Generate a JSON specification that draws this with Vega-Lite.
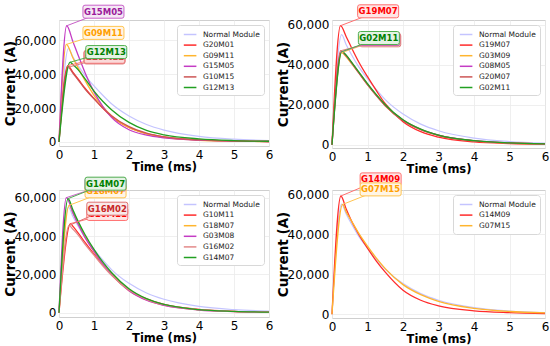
{
"$schema": "https://vega.github.io/schema/vega-lite/v6.json",
"background": "white",
"padding": {"left": 2, "top": 2, "right": 2, "bottom": 2},
"config": {
  "font": "DejaVu Sans",
  "view": {"stroke": "#cfcfcf", "strokeWidth": 1},
  "axis": {"labelFont": "DejaVu Sans", "labelFontSize": 12, "labelColor": "#000", "titleFont": "DejaVu Sans", "titleFontWeight": "bold", "titleColor": "#000", "domain": false, "ticks": false, "gridColor": "#ebebeb", "gridWidth": 0.8, "labelPadding": 3, "labelFlush": false, "labelOverlap": false},
  "axisY": {"titleFontSize": 13.5, "titlePadding": -3},
  "axisX": {"titleFontSize": 11.5, "titlePadding": 1, "tickCount": 7},
  "line": {"interpolate": "monotone"},
  "legend": {"orient": "top-right", "offset": 5, "fillColor": "white", "strokeColor": "#d8d8d8", "padding": 4, "cornerRadius": 3, "labelFont": "DejaVu Sans", "labelFontSize": 7.5, "labelColor": "#222", "symbolType": "M-0.6,0L2.2,0", "symbolSize": 81, "symbolStrokeWidth": 1.5, "rowPadding": 1.6, "labelOffset": 11}
},
"datasets": {
  "normal": [
    {"series":"Normal Module","time":0,"current":0},{"series":"Normal Module","time":0.27,"current":55000},{"series":"Normal Module","time":0.4,"current":50000},{"series":"Normal Module","time":0.55,"current":45000},{"series":"Normal Module","time":0.75,"current":39000},{"series":"Normal Module","time":1,"current":33000},{"series":"Normal Module","time":1.25,"current":27500},{"series":"Normal Module","time":1.5,"current":22500},{"series":"Normal Module","time":2,"current":15300},{"series":"Normal Module","time":2.5,"current":10300},{"series":"Normal Module","time":3,"current":7000},{"series":"Normal Module","time":4,"current":3300},{"series":"Normal Module","time":5,"current":1600},{"series":"Normal Module","time":6,"current":800}
  ],
  "l1": [
    {"series":"G20M01","time":0,"current":0},{"series":"G20M01","time":0.25,"current":45000},{"series":"G20M01","time":0.4,"current":41000},{"series":"G20M01","time":0.55,"current":37000},{"series":"G20M01","time":0.75,"current":31500},{"series":"G20M01","time":1,"current":25500},{"series":"G20M01","time":1.25,"current":20000},{"series":"G20M01","time":1.5,"current":15000},{"series":"G20M01","time":2,"current":8500},{"series":"G20M01","time":2.5,"current":4900},{"series":"G20M01","time":3,"current":2900},{"series":"G20M01","time":4,"current":1200},{"series":"G20M01","time":5,"current":550},{"series":"G20M01","time":6,"current":250},
    {"series":"G09M11","time":0,"current":0},{"series":"G09M11","time":0.21,"current":57500},{"series":"G09M11","time":0.4,"current":49500},{"series":"G09M11","time":0.55,"current":43500},{"series":"G09M11","time":0.75,"current":36000},{"series":"G09M11","time":1,"current":27500},{"series":"G09M11","time":1.25,"current":20800},{"series":"G09M11","time":1.5,"current":15500},{"series":"G09M11","time":2,"current":8500},{"series":"G09M11","time":2.5,"current":4800},{"series":"G09M11","time":3,"current":2700},{"series":"G09M11","time":4,"current":1000},{"series":"G09M11","time":5,"current":450},{"series":"G09M11","time":6,"current":200},
    {"series":"G15M05","time":0,"current":0},{"series":"G15M05","time":0.22,"current":68500},{"series":"G15M05","time":0.4,"current":59000},{"series":"G15M05","time":0.55,"current":51000},{"series":"G15M05","time":0.75,"current":40500},{"series":"G15M05","time":1,"current":29500},{"series":"G15M05","time":1.25,"current":21000},{"series":"G15M05","time":1.5,"current":14500},{"series":"G15M05","time":2,"current":7200},{"series":"G15M05","time":2.5,"current":4000},{"series":"G15M05","time":3,"current":2400},{"series":"G15M05","time":4,"current":1100},{"series":"G15M05","time":5,"current":500},{"series":"G15M05","time":6,"current":250},
    {"series":"G10M15","time":0,"current":0},{"series":"G10M15","time":0.26,"current":44000},{"series":"G10M15","time":0.4,"current":40500},{"series":"G10M15","time":0.55,"current":36500},{"series":"G10M15","time":0.75,"current":31000},{"series":"G10M15","time":1,"current":25500},{"series":"G10M15","time":1.25,"current":20000},{"series":"G10M15","time":1.5,"current":15500},{"series":"G10M15","time":2,"current":9000},{"series":"G10M15","time":2.5,"current":5200},{"series":"G10M15","time":3,"current":3000},{"series":"G10M15","time":4,"current":1200},{"series":"G10M15","time":5,"current":550},{"series":"G10M15","time":6,"current":250},
    {"series":"G12M13","time":0,"current":0},{"series":"G12M13","time":0.32,"current":47000},{"series":"G12M13","time":0.4,"current":45500},{"series":"G12M13","time":0.55,"current":42500},{"series":"G12M13","time":0.75,"current":37000},{"series":"G12M13","time":1,"current":30000},{"series":"G12M13","time":1.25,"current":24000},{"series":"G12M13","time":1.5,"current":19000},{"series":"G12M13","time":2,"current":11500},{"series":"G12M13","time":2.5,"current":6800},{"series":"G12M13","time":3,"current":4200},{"series":"G12M13","time":4,"current":1800},{"series":"G12M13","time":5,"current":800},{"series":"G12M13","time":6,"current":400}
  ],
  "l2": [
    {"series":"G19M07","time":0,"current":0},{"series":"G19M07","time":0.24,"current":59500},{"series":"G19M07","time":0.4,"current":54000},{"series":"G19M07","time":0.55,"current":48500},{"series":"G19M07","time":0.75,"current":41500},{"series":"G19M07","time":1,"current":34000},{"series":"G19M07","time":1.25,"current":27000},{"series":"G19M07","time":1.5,"current":20500},{"series":"G19M07","time":2,"current":11500},{"series":"G19M07","time":2.5,"current":6500},{"series":"G19M07","time":3,"current":3800},{"series":"G19M07","time":4,"current":1400},{"series":"G19M07","time":5,"current":600},{"series":"G19M07","time":6,"current":300},
    {"series":"G03M09","time":0,"current":0},{"series":"G03M09","time":0.27,"current":46000},{"series":"G03M09","time":0.4,"current":44000},{"series":"G03M09","time":0.55,"current":40500},{"series":"G03M09","time":0.75,"current":36000},{"series":"G03M09","time":1,"current":30000},{"series":"G03M09","time":1.25,"current":24500},{"series":"G03M09","time":1.5,"current":19500},{"series":"G03M09","time":2,"current":12200},{"series":"G03M09","time":2.5,"current":7600},{"series":"G03M09","time":3,"current":4700},{"series":"G03M09","time":4,"current":1900},{"series":"G03M09","time":5,"current":850},{"series":"G03M09","time":6,"current":400},
    {"series":"G08M05","time":0,"current":0},{"series":"G08M05","time":0.27,"current":46500},{"series":"G08M05","time":0.4,"current":44500},{"series":"G08M05","time":0.55,"current":41000},{"series":"G08M05","time":0.75,"current":36200},{"series":"G08M05","time":1,"current":30200},{"series":"G08M05","time":1.25,"current":24700},{"series":"G08M05","time":1.5,"current":19700},{"series":"G08M05","time":2,"current":12300},{"series":"G08M05","time":2.5,"current":7700},{"series":"G08M05","time":3,"current":4800},{"series":"G08M05","time":4,"current":2000},{"series":"G08M05","time":5,"current":900},{"series":"G08M05","time":6,"current":400},
    {"series":"G20M07","time":0,"current":0},{"series":"G20M07","time":0.25,"current":47000},{"series":"G20M07","time":0.4,"current":44500},{"series":"G20M07","time":0.55,"current":41000},{"series":"G20M07","time":0.75,"current":36000},{"series":"G20M07","time":1,"current":30000},{"series":"G20M07","time":1.25,"current":24500},{"series":"G20M07","time":1.5,"current":19500},{"series":"G20M07","time":2,"current":12000},{"series":"G20M07","time":2.5,"current":7500},{"series":"G20M07","time":3,"current":4600},{"series":"G20M07","time":4,"current":1900},{"series":"G20M07","time":5,"current":850},{"series":"G20M07","time":6,"current":400},
    {"series":"G02M11","time":0,"current":0},{"series":"G02M11","time":0.28,"current":46500},{"series":"G02M11","time":0.4,"current":44800},{"series":"G02M11","time":0.55,"current":41300},{"series":"G02M11","time":0.75,"current":36500},{"series":"G02M11","time":1,"current":30500},{"series":"G02M11","time":1.25,"current":25000},{"series":"G02M11","time":1.5,"current":20000},{"series":"G02M11","time":2,"current":12500},{"series":"G02M11","time":2.5,"current":7800},{"series":"G02M11","time":3,"current":4800},{"series":"G02M11","time":4,"current":2000},{"series":"G02M11","time":5,"current":900},{"series":"G02M11","time":6,"current":400}
  ],
  "l3": [
    {"series":"G10M11","time":0,"current":0},{"series":"G10M11","time":0.33,"current":46500},{"series":"G10M11","time":0.4,"current":45000},{"series":"G10M11","time":0.55,"current":41500},{"series":"G10M11","time":0.75,"current":36500},{"series":"G10M11","time":1,"current":30500},{"series":"G10M11","time":1.25,"current":25000},{"series":"G10M11","time":1.5,"current":20000},{"series":"G10M11","time":2,"current":12000},{"series":"G10M11","time":2.5,"current":7200},{"series":"G10M11","time":3,"current":4300},{"series":"G10M11","time":4,"current":1700},{"series":"G10M11","time":5,"current":700},{"series":"G10M11","time":6,"current":300},
    {"series":"G18M07","time":0,"current":0},{"series":"G18M07","time":0.29,"current":56000},{"series":"G18M07","time":0.4,"current":52000},{"series":"G18M07","time":0.55,"current":46500},{"series":"G18M07","time":0.75,"current":39500},{"series":"G18M07","time":1,"current":32000},{"series":"G18M07","time":1.25,"current":25500},{"series":"G18M07","time":1.5,"current":20000},{"series":"G18M07","time":2,"current":11500},{"series":"G18M07","time":2.5,"current":6700},{"series":"G18M07","time":3,"current":3900},{"series":"G18M07","time":4,"current":1500},{"series":"G18M07","time":5,"current":600},{"series":"G18M07","time":6,"current":300},
    {"series":"G03M08","time":0,"current":0},{"series":"G03M08","time":0.21,"current":60000},{"series":"G03M08","time":0.4,"current":52000},{"series":"G03M08","time":0.55,"current":46000},{"series":"G03M08","time":0.75,"current":39000},{"series":"G03M08","time":1,"current":32000},{"series":"G03M08","time":1.25,"current":25500},{"series":"G03M08","time":1.5,"current":20000},{"series":"G03M08","time":2,"current":11500},{"series":"G03M08","time":2.5,"current":6500},{"series":"G03M08","time":3,"current":3800},{"series":"G03M08","time":4,"current":1400},{"series":"G03M08","time":5,"current":600},{"series":"G03M08","time":6,"current":300},
    {"series":"G16M02","time":0,"current":0},{"series":"G16M02","time":0.29,"current":45500},{"series":"G16M02","time":0.4,"current":43500},{"series":"G16M02","time":0.55,"current":40500},{"series":"G16M02","time":0.75,"current":35500},{"series":"G16M02","time":1,"current":30000},{"series":"G16M02","time":1.25,"current":24500},{"series":"G16M02","time":1.5,"current":19500},{"series":"G16M02","time":2,"current":11800},{"series":"G16M02","time":2.5,"current":7000},{"series":"G16M02","time":3,"current":4200},{"series":"G16M02","time":4,"current":1600},{"series":"G16M02","time":5,"current":700},{"series":"G16M02","time":6,"current":300},
    {"series":"G14M07","time":0,"current":0},{"series":"G14M07","time":0.26,"current":59500},{"series":"G14M07","time":0.4,"current":53500},{"series":"G14M07","time":0.55,"current":47500},{"series":"G14M07","time":0.75,"current":40500},{"series":"G14M07","time":1,"current":33000},{"series":"G14M07","time":1.25,"current":26500},{"series":"G14M07","time":1.5,"current":21000},{"series":"G14M07","time":2,"current":12500},{"series":"G14M07","time":2.5,"current":7300},{"series":"G14M07","time":3,"current":4300},{"series":"G14M07","time":4,"current":1600},{"series":"G14M07","time":5,"current":700},{"series":"G14M07","time":6,"current":300}
  ],
  "l4": [
    {"series":"G14M09","time":0,"current":0},{"series":"G14M09","time":0.25,"current":59000},{"series":"G14M09","time":0.4,"current":52500},{"series":"G14M09","time":0.55,"current":46500},{"series":"G14M09","time":0.75,"current":40000},{"series":"G14M09","time":1,"current":33000},{"series":"G14M09","time":1.25,"current":26500},{"series":"G14M09","time":1.5,"current":21000},{"series":"G14M09","time":2,"current":12000},{"series":"G14M09","time":2.5,"current":7000},{"series":"G14M09","time":3,"current":4200},{"series":"G14M09","time":4,"current":1700},{"series":"G14M09","time":5,"current":800},{"series":"G14M09","time":6,"current":400},
    {"series":"G07M15","time":0,"current":0},{"series":"G07M15","time":0.3,"current":54800},{"series":"G07M15","time":0.4,"current":51000},{"series":"G07M15","time":0.55,"current":46500},{"series":"G07M15","time":0.75,"current":40500},{"series":"G07M15","time":1,"current":34000},{"series":"G07M15","time":1.25,"current":28000},{"series":"G07M15","time":1.5,"current":22800},{"series":"G07M15","time":2,"current":14800},{"series":"G07M15","time":2.5,"current":9800},{"series":"G07M15","time":3,"current":6500},{"series":"G07M15","time":4,"current":3000},{"series":"G07M15","time":5,"current":1400},{"series":"G07M15","time":6,"current":700}
  ],
  "a1": [
    {"series":"G20M01","time":1.3,"current":50200,"peakTime":0.25,"peakCurrent":45000},
    {"series":"G10M15","time":1.3,"current":49800,"peakTime":0.26,"peakCurrent":44000},
    {"series":"G15M05","time":1.27,"current":76800,"peakTime":0.22,"peakCurrent":68500},
    {"series":"G09M11","time":1.27,"current":64300,"peakTime":0.21,"peakCurrent":57500},
    {"series":"G12M13","time":1.35,"current":53000,"peakTime":0.32,"peakCurrent":47000}
  ],
  "a2": [
    {"series":"G03M09","time":1.34,"current":52800,"peakTime":0.27,"peakCurrent":46000},
    {"series":"G08M05","time":1.34,"current":52800,"peakTime":0.27,"peakCurrent":46500},
    {"series":"G20M07","time":1.36,"current":52200,"peakTime":0.25,"peakCurrent":47000},
    {"series":"G19M07","time":1.3,"current":66700,"peakTime":0.24,"peakCurrent":59500},
    {"series":"G02M11","time":1.32,"current":53350,"peakTime":0.28,"peakCurrent":46500}
  ],
  "a3": [
    {"series":"G03M08","time":1.33,"current":66800,"peakTime":0.21,"peakCurrent":60000},
    {"series":"G18M07","time":1.33,"current":63300,"peakTime":0.29,"peakCurrent":56000},
    {"series":"G10M11","time":1.38,"current":51500,"peakTime":0.33,"peakCurrent":46500},
    {"series":"G14M07","time":1.33,"current":67300,"peakTime":0.26,"peakCurrent":59500},
    {"series":"G16M02","time":1.38,"current":54250,"peakTime":0.29,"peakCurrent":45500}
  ],
  "a4": [
    {"series":"G14M09","time":1.37,"current":67300,"peakTime":0.25,"peakCurrent":59000},
    {"series":"G07M15","time":1.37,"current":62300,"peakTime":0.3,"peakCurrent":54800}
  ]
},
"columns": 2,
"spacing": {"row": 42, "column": 63},
"bounds": "flush",
"resolve": {"scale": {"color": "independent", "fill": "independent", "stroke": "independent", "strokeWidth": "independent"}, "legend": {"color": "independent"}},
"concat": [
{
 "width": 210, "height": 126,
 "encoding": {
  "x": {"field": "time", "type": "quantitative", "scale": {"domain": [0, 6], "nice": false}, "axis": {"values": [0,1,2,3,4,5,6], "format": "d", "title": "Time (ms)"}},
  "y": {"field": "current", "type": "quantitative", "scale": {"domain": [-2400, 71900], "nice": false, "zero": false}, "axis": {"values": [0,20000,40000,60000], "format": ",d", "title": "Current (A)"}}
 },
 "layer": [
  {"data": {"name": "normal"}, "mark": {"type": "line", "strokeWidth": 1.2},
   "encoding": {"color": {"field": "series", "type": "nominal", "scale": {"domain": ["Normal Module","G20M01","G09M11","G15M05","G10M15","G12M13"], "range": ["#c4c4ff","#ff2b2b","#ffb52e","#c43cc4","#cd5555","#22a022"]}, "legend": {"title": null}}}},
  {"data": {"name": "l1"}, "mark": {"type": "line", "strokeWidth": 1.3},
   "encoding": {"color": {"field": "series", "type": "nominal", "legend": {"title": null}}}},
  {"data": {"name": "a1"}, "transform": [{"filter": {"field": "series", "oneOf": ["G20M01","G10M15"]}}],
   "layer": [
    {"mark": {"type": "rule", "strokeWidth": 1}, "encoding": {"x": {"field": "peakTime", "type": "quantitative", "axis": {"values": [0,1,2,3,4,5,6], "format": "d", "title": "Time (ms)"}}, "y": {"field": "peakCurrent", "type": "quantitative", "axis": {"values": [0,20000,40000,60000], "format": ",d", "title": "Current (A)"}}, "x2": {"field": "time"}, "y2": {"field": "current"}, "stroke": {"field": "series", "type": "nominal", "scale": {"domain": ["G15M05","G09M11","G12M13","G20M01","G10M15"], "range": ["#c860c8","#ffc450","#50b050","#ff7070","#e08080"]}, "legend": null}}},
    {"mark": {"type": "point", "shape": "M-0.9,-0.317L0.9,-0.317Q1,-0.317 1,-0.217L1,0.217Q1,0.317 0.9,0.317L-0.9,0.317Q-1,0.317 -1,0.217L-1,-0.217Q-1,-0.317 -0.9,-0.317Z", "size": 1681, "filled": true, "fill": "white", "opacity": 1, "strokeWidth": 0}},
    {"mark": {"type": "point", "shape": "M-0.9,-0.317L0.9,-0.317Q1,-0.317 1,-0.217L1,0.217Q1,0.317 0.9,0.317L-0.9,0.317Q-1,0.317 -1,0.217L-1,-0.217Q-1,-0.317 -0.9,-0.317Z", "size": 1681, "filled": true, "opacity": 1, "fillOpacity": 0.1, "strokeWidth": 1}, "encoding": {"fill": {"field": "series", "type": "nominal", "scale": {"domain": ["G15M05","G09M11","G12M13","G20M01","G10M15"], "range": ["#9b1b9b","#ffa000","#008000","#ff3030","#cd4040"]}, "legend": null}, "stroke": {"field": "series", "type": "nominal", "legend": null}}},
    {"mark": {"type": "text", "fontWeight": "bold", "fontSize": 8.5, "baseline": "middle"}, "encoding": {"text": {"field": "series"}, "fill": {"field": "series", "type": "nominal", "legend": null}}}
   ]},
  {"data": {"name": "a1"}, "transform": [{"filter": {"field": "series", "oneOf": ["G15M05","G09M11","G12M13"]}}],
   "layer": [
    {"mark": {"type": "rule", "strokeWidth": 1}, "encoding": {"x": {"field": "peakTime", "type": "quantitative", "axis": {"values": [0,1,2,3,4,5,6], "format": "d", "title": "Time (ms)"}}, "y": {"field": "peakCurrent", "type": "quantitative", "axis": {"values": [0,20000,40000,60000], "format": ",d", "title": "Current (A)"}}, "x2": {"field": "time"}, "y2": {"field": "current"}, "stroke": {"field": "series", "type": "nominal", "legend": null}}},
    {"mark": {"type": "point", "shape": "M-0.9,-0.317L0.9,-0.317Q1,-0.317 1,-0.217L1,0.217Q1,0.317 0.9,0.317L-0.9,0.317Q-1,0.317 -1,0.217L-1,-0.217Q-1,-0.317 -0.9,-0.317Z", "size": 1681, "filled": true, "fill": "white", "opacity": 1, "strokeWidth": 0}},
    {"mark": {"type": "point", "shape": "M-0.9,-0.317L0.9,-0.317Q1,-0.317 1,-0.217L1,0.217Q1,0.317 0.9,0.317L-0.9,0.317Q-1,0.317 -1,0.217L-1,-0.217Q-1,-0.317 -0.9,-0.317Z", "size": 1681, "filled": true, "opacity": 1, "fillOpacity": 0.1, "strokeWidth": 1}, "encoding": {"fill": {"field": "series", "type": "nominal", "legend": null}, "stroke": {"field": "series", "type": "nominal", "legend": null}}},
    {"mark": {"type": "text", "fontWeight": "bold", "fontSize": 8.5, "baseline": "middle"}, "encoding": {"text": {"field": "series"}, "fill": {"field": "series", "type": "nominal", "legend": null}}}
   ]}
 ]
},
{
 "width": 213, "height": 128,
 "encoding": {
  "x": {"field": "time", "type": "quantitative", "scale": {"domain": [0, 6], "nice": false}, "axis": {"values": [0,1,2,3,4,5,6], "format": "d", "title": "Time (ms)"}},
  "y": {"field": "current", "type": "quantitative", "scale": {"domain": [-1650, 62350], "nice": false, "zero": false}, "axis": {"values": [0,20000,40000,60000], "format": ",d", "title": "Current (A)"}}
 },
 "layer": [
  {"data": {"name": "normal"}, "mark": {"type": "line", "strokeWidth": 1.2},
   "encoding": {"color": {"field": "series", "type": "nominal", "scale": {"domain": ["Normal Module","G19M07","G03M09","G08M05","G20M07","G02M11"], "range": ["#c4c4ff","#ff2b2b","#ffb52e","#c43cc4","#cd5555","#22a022"]}, "legend": {"title": null}}}},
  {"data": {"name": "l2"}, "mark": {"type": "line", "strokeWidth": 1.3},
   "encoding": {"color": {"field": "series", "type": "nominal", "legend": {"title": null}}}},
  {"data": {"name": "a2"}, "transform": [{"filter": {"field": "series", "oneOf": ["G03M09","G08M05","G20M07"]}}],
   "layer": [
    {"mark": {"type": "rule", "strokeWidth": 1}, "encoding": {"x": {"field": "peakTime", "type": "quantitative", "axis": {"values": [0,1,2,3,4,5,6], "format": "d", "title": "Time (ms)"}}, "y": {"field": "peakCurrent", "type": "quantitative", "axis": {"values": [0,20000,40000,60000], "format": ",d", "title": "Current (A)"}}, "x2": {"field": "time"}, "y2": {"field": "current"}, "stroke": {"field": "series", "type": "nominal", "scale": {"domain": ["G19M07","G02M11","G03M09","G08M05","G20M07"], "range": ["#ff7070","#50b050","#ffc450","#c860c8","#e08080"]}, "legend": null}}},
    {"mark": {"type": "point", "shape": "M-0.9,-0.317L0.9,-0.317Q1,-0.317 1,-0.217L1,0.217Q1,0.317 0.9,0.317L-0.9,0.317Q-1,0.317 -1,0.217L-1,-0.217Q-1,-0.317 -0.9,-0.317Z", "size": 1681, "filled": true, "fill": "white", "opacity": 1, "strokeWidth": 0}},
    {"mark": {"type": "point", "shape": "M-0.9,-0.317L0.9,-0.317Q1,-0.317 1,-0.217L1,0.217Q1,0.317 0.9,0.317L-0.9,0.317Q-1,0.317 -1,0.217L-1,-0.217Q-1,-0.317 -0.9,-0.317Z", "size": 1681, "filled": true, "opacity": 1, "fillOpacity": 0.1, "strokeWidth": 1}, "encoding": {"fill": {"field": "series", "type": "nominal", "scale": {"domain": ["G19M07","G02M11","G03M09","G08M05","G20M07"], "range": ["#ff0000","#008000","#ffa000","#9b1b9b","#c03030"]}, "legend": null}, "stroke": {"field": "series", "type": "nominal", "legend": null}}},
    {"mark": {"type": "text", "fontWeight": "bold", "fontSize": 8.5, "baseline": "middle"}, "encoding": {"text": {"field": "series"}, "fill": {"field": "series", "type": "nominal", "legend": null}}}
   ]},
  {"data": {"name": "a2"}, "transform": [{"filter": {"field": "series", "oneOf": ["G19M07","G02M11"]}}],
   "layer": [
    {"mark": {"type": "rule", "strokeWidth": 1}, "encoding": {"x": {"field": "peakTime", "type": "quantitative", "axis": {"values": [0,1,2,3,4,5,6], "format": "d", "title": "Time (ms)"}}, "y": {"field": "peakCurrent", "type": "quantitative", "axis": {"values": [0,20000,40000,60000], "format": ",d", "title": "Current (A)"}}, "x2": {"field": "time"}, "y2": {"field": "current"}, "stroke": {"field": "series", "type": "nominal", "legend": null}}},
    {"mark": {"type": "point", "shape": "M-0.9,-0.317L0.9,-0.317Q1,-0.317 1,-0.217L1,0.217Q1,0.317 0.9,0.317L-0.9,0.317Q-1,0.317 -1,0.217L-1,-0.217Q-1,-0.317 -0.9,-0.317Z", "size": 1681, "filled": true, "fill": "white", "opacity": 1, "strokeWidth": 0}},
    {"mark": {"type": "point", "shape": "M-0.9,-0.317L0.9,-0.317Q1,-0.317 1,-0.217L1,0.217Q1,0.317 0.9,0.317L-0.9,0.317Q-1,0.317 -1,0.217L-1,-0.217Q-1,-0.317 -0.9,-0.317Z", "size": 1681, "filled": true, "opacity": 1, "fillOpacity": 0.1, "strokeWidth": 1}, "encoding": {"fill": {"field": "series", "type": "nominal", "legend": null}, "stroke": {"field": "series", "type": "nominal", "legend": null}}},
    {"mark": {"type": "text", "fontWeight": "bold", "fontSize": 8.5, "baseline": "middle"}, "encoding": {"text": {"field": "series"}, "fill": {"field": "series", "type": "nominal", "legend": null}}}
   ]}
 ]
},
{
 "width": 210, "height": 127,
 "encoding": {
  "x": {"field": "time", "type": "quantitative", "scale": {"domain": [0, 6], "nice": false}, "axis": {"values": [0,1,2,3,4,5,6], "format": "d", "title": "Time (ms)"}},
  "y": {"field": "current", "type": "quantitative", "scale": {"domain": [-2240, 64000], "nice": false, "zero": false}, "axis": {"values": [0,20000,40000,60000], "format": ",d", "title": "Current (A)"}}
 },
 "layer": [
  {"data": {"name": "normal"}, "mark": {"type": "line", "strokeWidth": 1.2},
   "encoding": {"color": {"field": "series", "type": "nominal", "scale": {"domain": ["Normal Module","G10M11","G18M07","G03M08","G16M02","G14M07"], "range": ["#c4c4ff","#ff2b2b","#ffb52e","#c43cc4","#e38a8a","#22a022"]}, "legend": {"title": null}}}},
  {"data": {"name": "l3"}, "mark": {"type": "line"},
   "encoding": {
    "color": {"field": "series", "type": "nominal", "legend": {"title": null}},
    "strokeWidth": {"field": "series", "type": "ordinal", "scale": {"domain": ["G10M11","G18M07","G03M08","G16M02","G14M07"], "range": [1.3,1.3,1.3,3,1.3]}, "legend": null}}},
  {"data": {"name": "a3"}, "transform": [{"filter": {"field": "series", "oneOf": ["G03M08","G18M07","G10M11"]}}],
   "layer": [
    {"mark": {"type": "rule", "strokeWidth": 1}, "encoding": {"x": {"field": "peakTime", "type": "quantitative", "axis": {"values": [0,1,2,3,4,5,6], "format": "d", "title": "Time (ms)"}}, "y": {"field": "peakCurrent", "type": "quantitative", "axis": {"values": [0,20000,40000,60000], "format": ",d", "title": "Current (A)"}}, "x2": {"field": "time"}, "y2": {"field": "current"}, "stroke": {"field": "series", "type": "nominal", "scale": {"domain": ["G14M07","G16M02","G03M08","G18M07","G10M11"], "range": ["#50b050","#e07070","#c860c8","#ffc450","#ff7070"]}, "legend": null}}},
    {"mark": {"type": "point", "shape": "M-0.9,-0.317L0.9,-0.317Q1,-0.317 1,-0.217L1,0.217Q1,0.317 0.9,0.317L-0.9,0.317Q-1,0.317 -1,0.217L-1,-0.217Q-1,-0.317 -0.9,-0.317Z", "size": 1681, "filled": true, "fill": "white", "opacity": 1, "strokeWidth": 0}},
    {"mark": {"type": "point", "shape": "M-0.9,-0.317L0.9,-0.317Q1,-0.317 1,-0.217L1,0.217Q1,0.317 0.9,0.317L-0.9,0.317Q-1,0.317 -1,0.217L-1,-0.217Q-1,-0.317 -0.9,-0.317Z", "size": 1681, "filled": true, "opacity": 1, "fillOpacity": 0.1, "strokeWidth": 1}, "encoding": {"fill": {"field": "series", "type": "nominal", "scale": {"domain": ["G14M07","G16M02","G03M08","G18M07","G10M11"], "range": ["#008000","#c82828","#9b1b9b","#ffa000","#ff0000"]}, "legend": null}, "stroke": {"field": "series", "type": "nominal", "legend": null}}},
    {"mark": {"type": "text", "fontWeight": "bold", "fontSize": 8.5, "baseline": "middle"}, "encoding": {"text": {"field": "series"}, "fill": {"field": "series", "type": "nominal", "legend": null}}}
   ]},
  {"data": {"name": "a3"}, "transform": [{"filter": {"field": "series", "oneOf": ["G14M07","G16M02"]}}],
   "layer": [
    {"mark": {"type": "rule", "strokeWidth": 1}, "encoding": {"x": {"field": "peakTime", "type": "quantitative", "axis": {"values": [0,1,2,3,4,5,6], "format": "d", "title": "Time (ms)"}}, "y": {"field": "peakCurrent", "type": "quantitative", "axis": {"values": [0,20000,40000,60000], "format": ",d", "title": "Current (A)"}}, "x2": {"field": "time"}, "y2": {"field": "current"}, "stroke": {"field": "series", "type": "nominal", "legend": null}}},
    {"mark": {"type": "point", "shape": "M-0.9,-0.317L0.9,-0.317Q1,-0.317 1,-0.217L1,0.217Q1,0.317 0.9,0.317L-0.9,0.317Q-1,0.317 -1,0.217L-1,-0.217Q-1,-0.317 -0.9,-0.317Z", "size": 1681, "filled": true, "fill": "white", "opacity": 1, "strokeWidth": 0}},
    {"mark": {"type": "point", "shape": "M-0.9,-0.317L0.9,-0.317Q1,-0.317 1,-0.217L1,0.217Q1,0.317 0.9,0.317L-0.9,0.317Q-1,0.317 -1,0.217L-1,-0.217Q-1,-0.317 -0.9,-0.317Z", "size": 1681, "filled": true, "opacity": 1, "fillOpacity": 0.1, "strokeWidth": 1}, "encoding": {"fill": {"field": "series", "type": "nominal", "legend": null}, "stroke": {"field": "series", "type": "nominal", "legend": null}}},
    {"mark": {"type": "text", "fontWeight": "bold", "fontSize": 8.5, "baseline": "middle"}, "encoding": {"text": {"field": "series"}, "fill": {"field": "series", "type": "nominal", "legend": null}}}
   ]}
 ]
},
{
 "width": 213, "height": 128,
 "encoding": {
  "x": {"field": "time", "type": "quantitative", "scale": {"domain": [0, 6], "nice": false}, "axis": {"values": [0,1,2,3,4,5,6], "format": "d", "title": "Time (ms)"}},
  "y": {"field": "current", "type": "quantitative", "scale": {"domain": [-1850, 62000], "nice": false, "zero": false}, "axis": {"values": [0,20000,40000,60000], "format": ",d", "title": "Current (A)"}}
 },
 "layer": [
  {"data": {"name": "normal"}, "mark": {"type": "line", "strokeWidth": 1.2},
   "encoding": {"color": {"field": "series", "type": "nominal", "scale": {"domain": ["Normal Module","G14M09","G07M15"], "range": ["#c4c4ff","#ff2b2b","#ffb52e"]}, "legend": {"title": null}}}},
  {"data": {"name": "l4"}, "mark": {"type": "line", "strokeWidth": 1.3},
   "encoding": {"color": {"field": "series", "type": "nominal", "legend": {"title": null}}}},
  {"data": {"name": "a4"}, "transform": [{"filter": {"field": "series", "oneOf": ["G14M09"]}}],
   "layer": [
    {"mark": {"type": "rule", "strokeWidth": 1}, "encoding": {"x": {"field": "peakTime", "type": "quantitative", "axis": {"values": [0,1,2,3,4,5,6], "format": "d", "title": "Time (ms)"}}, "y": {"field": "peakCurrent", "type": "quantitative", "axis": {"values": [0,20000,40000,60000], "format": ",d", "title": "Current (A)"}}, "x2": {"field": "time"}, "y2": {"field": "current"}, "stroke": {"field": "series", "type": "nominal", "scale": {"domain": ["G14M09","G07M15"], "range": ["#ff7070","#ffc450"]}, "legend": null}}},
    {"mark": {"type": "point", "shape": "M-0.9,-0.317L0.9,-0.317Q1,-0.317 1,-0.217L1,0.217Q1,0.317 0.9,0.317L-0.9,0.317Q-1,0.317 -1,0.217L-1,-0.217Q-1,-0.317 -0.9,-0.317Z", "size": 1681, "filled": true, "fill": "white", "opacity": 1, "strokeWidth": 0}},
    {"mark": {"type": "point", "shape": "M-0.9,-0.317L0.9,-0.317Q1,-0.317 1,-0.217L1,0.217Q1,0.317 0.9,0.317L-0.9,0.317Q-1,0.317 -1,0.217L-1,-0.217Q-1,-0.317 -0.9,-0.317Z", "size": 1681, "filled": true, "opacity": 1, "fillOpacity": 0.1, "strokeWidth": 1}, "encoding": {"fill": {"field": "series", "type": "nominal", "scale": {"domain": ["G14M09","G07M15"], "range": ["#ff0000","#ffa000"]}, "legend": null}, "stroke": {"field": "series", "type": "nominal", "legend": null}}},
    {"mark": {"type": "text", "fontWeight": "bold", "fontSize": 8.5, "baseline": "middle"}, "encoding": {"text": {"field": "series"}, "fill": {"field": "series", "type": "nominal", "legend": null}}}
   ]},
  {"data": {"name": "a4"}, "transform": [{"filter": {"field": "series", "oneOf": ["G07M15"]}}],
   "layer": [
    {"mark": {"type": "rule", "strokeWidth": 1}, "encoding": {"x": {"field": "peakTime", "type": "quantitative", "axis": {"values": [0,1,2,3,4,5,6], "format": "d", "title": "Time (ms)"}}, "y": {"field": "peakCurrent", "type": "quantitative", "axis": {"values": [0,20000,40000,60000], "format": ",d", "title": "Current (A)"}}, "x2": {"field": "time"}, "y2": {"field": "current"}, "stroke": {"field": "series", "type": "nominal", "legend": null}}},
    {"mark": {"type": "point", "shape": "M-0.9,-0.317L0.9,-0.317Q1,-0.317 1,-0.217L1,0.217Q1,0.317 0.9,0.317L-0.9,0.317Q-1,0.317 -1,0.217L-1,-0.217Q-1,-0.317 -0.9,-0.317Z", "size": 1681, "filled": true, "fill": "white", "opacity": 1, "strokeWidth": 0}},
    {"mark": {"type": "point", "shape": "M-0.9,-0.317L0.9,-0.317Q1,-0.317 1,-0.217L1,0.217Q1,0.317 0.9,0.317L-0.9,0.317Q-1,0.317 -1,0.217L-1,-0.217Q-1,-0.317 -0.9,-0.317Z", "size": 1681, "filled": true, "opacity": 1, "fillOpacity": 0.1, "strokeWidth": 1}, "encoding": {"fill": {"field": "series", "type": "nominal", "legend": null}, "stroke": {"field": "series", "type": "nominal", "legend": null}}},
    {"mark": {"type": "text", "fontWeight": "bold", "fontSize": 8.5, "baseline": "middle"}, "encoding": {"text": {"field": "series"}, "fill": {"field": "series", "type": "nominal", "legend": null}}}
   ]}
 ]
}
]
}
